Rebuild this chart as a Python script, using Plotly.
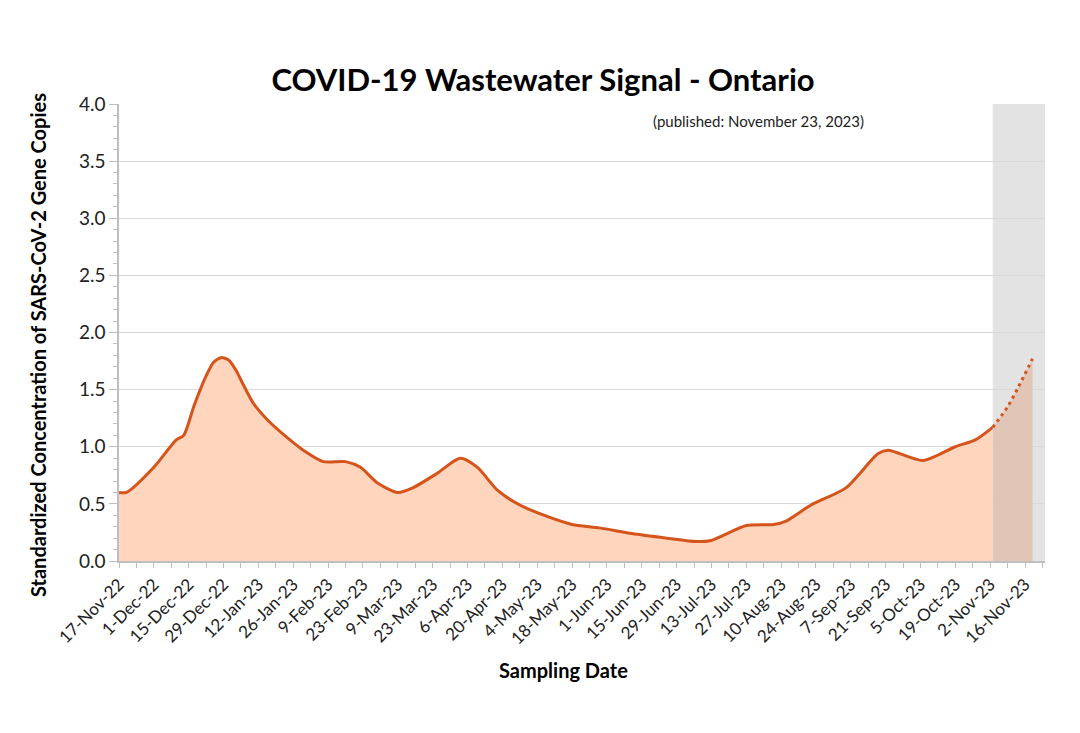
import plotly.graph_objects as go

# Observed (solid) series
dates_obs = ["2022-11-17", "2022-11-20", "2022-12-01", "2022-12-10", "2022-12-13", "2022-12-17",
             "2022-12-20", "2022-12-22", "2022-12-25", "2022-12-28", "2022-12-31", "2023-01-03",
             "2023-01-06", "2023-01-10", "2023-01-15", "2023-01-23",
             "2023-01-30", "2023-02-07", "2023-02-16", "2023-02-22", "2023-03-01", "2023-03-09",
             "2023-03-15", "2023-03-25", "2023-04-03", "2023-04-10", "2023-04-18", "2023-04-27",
             "2023-05-08", "2023-05-18", "2023-05-29", "2023-06-11", "2023-06-25", "2023-07-07",
             "2023-07-13", "2023-07-27", "2023-08-07", "2023-08-12", "2023-08-22", "2023-09-05",
             "2023-09-18", "2023-09-22", "2023-10-06", "2023-10-19", "2023-10-27", "2023-11-03"]
values_obs = [0.60, 0.60, 0.82, 1.06, 1.10, 1.35,
              1.52, 1.62, 1.74, 1.78, 1.76, 1.67,
              1.54, 1.38, 1.25, 1.09,
              0.97, 0.87, 0.87, 0.82, 0.68, 0.60,
              0.64, 0.77, 0.90, 0.82, 0.62, 0.49,
              0.39, 0.32, 0.29, 0.24, 0.20, 0.17,
              0.18, 0.31, 0.32, 0.35, 0.49, 0.64,
              0.94, 0.97, 0.88, 1.00, 1.06, 1.17]

# Provisional (dotted) series
dates_prov = ["2023-11-03", "2023-11-09", "2023-11-13", "2023-11-19"]
values_prov = [1.17, 1.35, 1.51, 1.77]

shade_start = "2023-11-03"
x_start = "2022-11-17"
x_end = "2023-11-24"

title_text = "COVID-19 Wastewater Signal - Ontario"
y_title = "Standardized Concentration of SARS-CoV-2 Gene Copies"
x_title = "Sampling Date"
published = "(published: November 23, 2023)"

LINE = "#D5541C"
FILL = "#FFD6BD"
FILL_SHADE = "#E1C6B7"
GRAY = "#E3E3E3"
FONT = "Lato"

W, H = 1072, 725  # page adds an 8px body margin

fig = go.Figure()

fig.add_trace(go.Scatter(
    x=dates_obs, y=values_obs, mode="lines",
    line=dict(color=LINE, width=3, shape="spline", smoothing=0.7),
    fill="tozeroy", fillcolor=FILL, hoverinfo="skip", showlegend=False))

fig.add_trace(go.Scatter(
    x=dates_prov, y=values_prov, mode="lines",
    line=dict(color=LINE, width=3, shape="spline", smoothing=0.7, dash="3px,4px"),
    fill="tozeroy", fillcolor=FILL_SHADE, hoverinfo="skip", showlegend=False))

fig.add_shape(type="rect", xref="x", yref="paper", x0=shade_start, x1=x_end, y0=0, y1=1,
              fillcolor=GRAY, line=dict(width=0), layer="below")

DAY_MS = 86400000
fig.update_xaxes(
    type="date", range=[x_start, x_end],
    tick0=x_start, dtick=14 * DAY_MS, tickformat="%-d-%b-%y", tickangle=-45,
    ticks="outside", ticklen=5, tickcolor="#BFBFBF",
    minor=dict(dtick=7 * DAY_MS, tick0=x_start, ticks="outside", ticklen=5, tickcolor="#BFBFBF", showgrid=False),
    showline=True, linecolor="#BFBFBF", linewidth=1.5, showgrid=False,
    tickfont=dict(family=FONT, size=17, color="#222222"), zeroline=False)

fig.update_yaxes(
    range=[0, 4], tick0=0, dtick=0.5, tickformat=".1f",
    ticks="outside", ticklen=8, tickcolor="#BFBFBF",
    minor=dict(dtick=0.1, ticks="outside", ticklen=4, tickcolor="#BFBFBF", showgrid=False),
    showline=True, linecolor="#BFBFBF", linewidth=1.5,
    showgrid=True, gridcolor="#D9D9D9", gridwidth=1, zeroline=False,
    tickfont=dict(family=FONT, size=19, color="#222222"))

fig.update_layout(
    width=W, height=H,
    margin=dict(l=111, r=35, t=96, b=172),
    paper_bgcolor="white", plot_bgcolor="white",
    font=dict(family=FONT),
    title=dict(text="<b>" + title_text + "</b>", x=535 / W, xanchor="center", xref="container",
               y=1 - 72 / H, yref="container", yanchor="middle",
               font=dict(family=FONT, size=31, color="black")),
    annotations=[
        dict(text=published, xref="paper", yref="paper", x=0.5745, y=0.963,
             xanchor="left", yanchor="middle", showarrow=False,
             font=dict(family=FONT, size=15, color="#222222")),
        dict(text="<b>" + y_title + "</b>", xref="paper", yref="paper",
             x=-0.0875, y=0.4726, textangle=-90, xanchor="center", yanchor="middle",
             showarrow=False, font=dict(family=FONT, size=20, color="black")),
        dict(text="<b>" + x_title + "</b>", xref="paper", yref="paper",
             x=0.4795, y=-0.2385, xanchor="center", yanchor="middle",
             showarrow=False, font=dict(family=FONT, size=20, color="black")),
    ])

fig.write_html("out.html")
